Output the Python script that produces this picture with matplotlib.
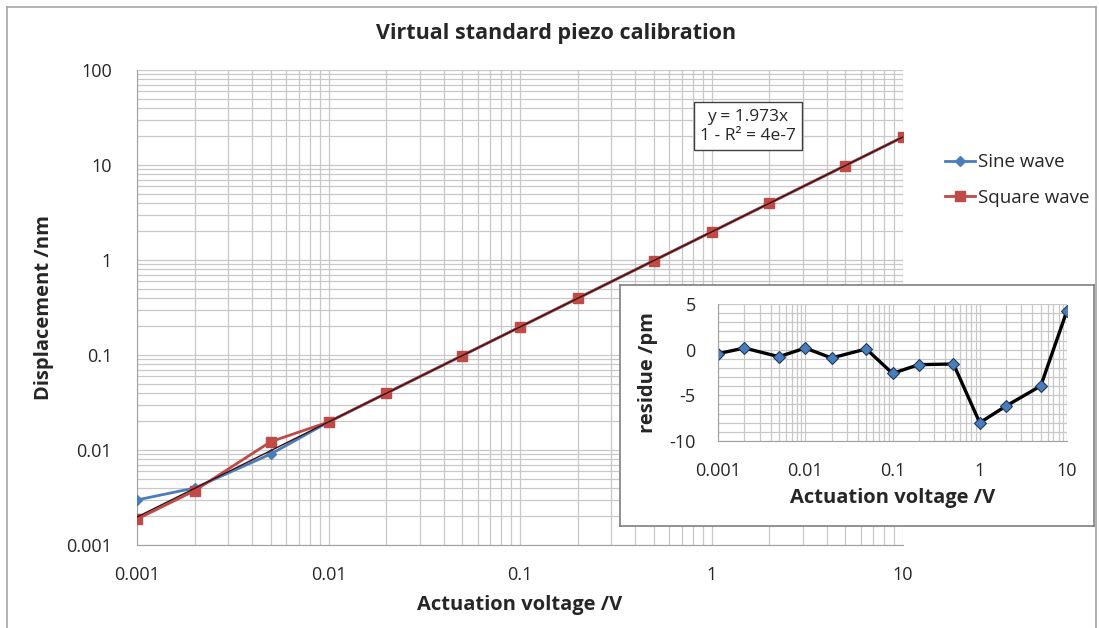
import numpy as np
import matplotlib.pyplot as plt
from matplotlib.ticker import LogLocator, FixedLocator, MultipleLocator, NullFormatter
from matplotlib.lines import Line2D

plt.rcParams['font.family'] = ['Open Sans', 'DejaVu Sans']

# Data
voltage = [0.001, 0.002, 0.005, 0.01, 0.02, 0.05, 0.1, 0.2, 0.5, 1, 2, 5, 10]
sine_nm = [0.00298, 0.00398, 0.00908, 0.0197, 0.0395, 0.0987, 0.1973, 0.3946,
           0.9865, 1.973, 3.946, 9.865, 19.73]
square_nm = [0.00187, 0.00373, 0.01225, 0.0197, 0.0395, 0.0987, 0.1973, 0.3946,
             0.9865, 1.973, 3.946, 9.865, 19.73]
slope = 1.973
residue_pm = [-0.44, 0.18, -0.77, 0.18, -0.91, 0.08, -2.6, -1.64, -1.57,
              -8.0, -6.17, -3.97, 4.27]

x_ticks = [0.001, 0.01, 0.1, 1, 10]
x_labels = ['0.001', '0.01', '0.1', '1', '10']
y_ticks = [0.001, 0.01, 0.1, 1, 10, 100]
y_labels = ['0.001', '0.01', '0.1', '1', '10', '100']
res_ticks = [-10, -5, 0, 5]
res_labels = ['-10', '-5', '0', '5']

W, H = 1099, 628
fig = plt.figure(figsize=(W / 100, H / 100), dpi=100)

# outer chart border
border_c = '#a6a6a6'
fig.add_artist(Line2D([7 / W, 7 / W], [0, 1 - 7 / H], color=border_c, lw=1.2))
fig.add_artist(Line2D([7 / W, 1096 / W], [1 - 7 / H, 1 - 7 / H], color=border_c, lw=1.2))
fig.add_artist(Line2D([1096 / W, 1096 / W], [0, 1 - 7 / H], color=border_c, lw=1.2))

grid_c = '#c8c8c8'
text_c = '#262626'

# main axes: x 137..903, y 70..545
ax = fig.add_axes([137 / W, 1 - 545 / H, (903 - 137) / W, (545 - 70) / H])
ax.set_xscale('log')
ax.set_yscale('log')
ax.set_xlim(0.001, 10)
ax.set_ylim(0.001, 100)

ax.plot(voltage, sine_nm, color='#4a7ebb', lw=2, marker='D', ms=5,
        label='Sine wave', zorder=3)
ax.plot(voltage, square_nm, color='#be4b48', lw=2, marker='s', ms=7.5,
        label='Square wave', zorder=4)
fit_x = [voltage[0], voltage[-1]]
ax.plot(fit_x, [slope * v for v in fit_x], color='#3a1010', lw=1, zorder=5)

ax.xaxis.set_major_locator(FixedLocator(x_ticks))
ax.yaxis.set_major_locator(FixedLocator(y_ticks))
ax.set_xticklabels(x_labels)
ax.set_yticklabels(y_labels)
ax.xaxis.set_minor_locator(LogLocator(base=10, subs=np.arange(2, 10)))
ax.yaxis.set_minor_locator(LogLocator(base=10, subs=np.arange(2, 10)))
ax.xaxis.set_minor_formatter(NullFormatter())
ax.yaxis.set_minor_formatter(NullFormatter())
ax.grid(True, which='both', color=grid_c, lw=0.9)
ax.set_axisbelow(True)
ax.tick_params(which='both', length=0, labelsize=13, colors=text_c)
ax.tick_params(axis='x', pad=15)
ax.tick_params(axis='y', pad=18)
for s in ['top', 'right']:
    ax.spines[s].set_visible(False)
for s in ['left', 'bottom']:
    ax.spines[s].set_color('#a0a0a0')

ax.set_xlabel('Actuation voltage /V', fontsize=14.5, fontweight='bold', color=text_c, labelpad=8)
ax.set_ylabel('Displacement /nm', fontsize=14.5, fontweight='bold', color=text_c, labelpad=9)
fig.text(0.506, 1 - 33 / H, 'Virtual standard piezo calibration', ha='center', va='center',
         fontsize=15.5, fontweight='bold', color=text_c)

ax.text(1.55, 25.7, 'y = 1.973x\n1 - R² = 4e-7', ha='center', va='center', fontsize=12.5,
        color=text_c, linespacing=1.25,
        bbox=dict(boxstyle='square,pad=0.35', fc='white', ec='#404040', lw=1), zorder=6)

fig.legend(handles=ax.get_legend_handles_labels()[0], loc='center left',
           bbox_to_anchor=(928 / W, 1 - 180 / H), frameon=False, fontsize=13.5,
           handlelength=1.6, labelspacing=0.95, handletextpad=0.15, labelcolor=text_c)

# inset panel box
box = fig.add_axes([620 / W, 1 - 526 / H, (1094 - 620) / W, (526 - 285) / H])
box.set_xticks([])
box.set_yticks([])
box.set_facecolor('white')
for s in box.spines.values():
    s.set_color('#7f7f7f')
    s.set_linewidth(1.2)
box.set_zorder(10)

# inset axes: x 718..1067, y 304..441
ins = fig.add_axes([718 / W, 1 - 441 / H, (1067 - 718) / W, (441 - 304) / H])
ins.set_zorder(11)
ins.set_xscale('log')
ins.set_xlim(0.001, 10)
ins.set_ylim(-10, 5)
ins.plot(voltage, residue_pm, color='black', lw=2.4, marker='D', ms=6.5,
         mfc='#4a7ebb', mec='#1f3a5f', mew=0.8)
ins.xaxis.set_major_locator(FixedLocator(x_ticks))
ins.set_xticklabels(x_labels)
ins.xaxis.set_minor_locator(LogLocator(base=10, subs=np.arange(2, 10)))
ins.xaxis.set_minor_formatter(NullFormatter())
ins.yaxis.set_major_locator(FixedLocator(res_ticks))
ins.set_yticklabels(res_labels)
ins.yaxis.set_minor_locator(MultipleLocator(1))
ins.grid(True, which='both', color=grid_c, lw=0.9)
ins.set_axisbelow(True)
ins.tick_params(which='both', length=0, labelsize=13, colors=text_c)
ins.tick_params(axis='x', pad=15)
ins.tick_params(axis='y', pad=16)
for s in ['top', 'right']:
    ins.spines[s].set_visible(False)
for s in ['left', 'bottom']:
    ins.spines[s].set_color('#a0a0a0')
ins.set_xlabel('Actuation voltage /V', fontsize=14.5, fontweight='bold', color=text_c, labelpad=6)
ins.set_ylabel('residue /pm', fontsize=14.5, fontweight='bold', color=text_c, labelpad=8)

fig.savefig('out.png', dpi=100)
